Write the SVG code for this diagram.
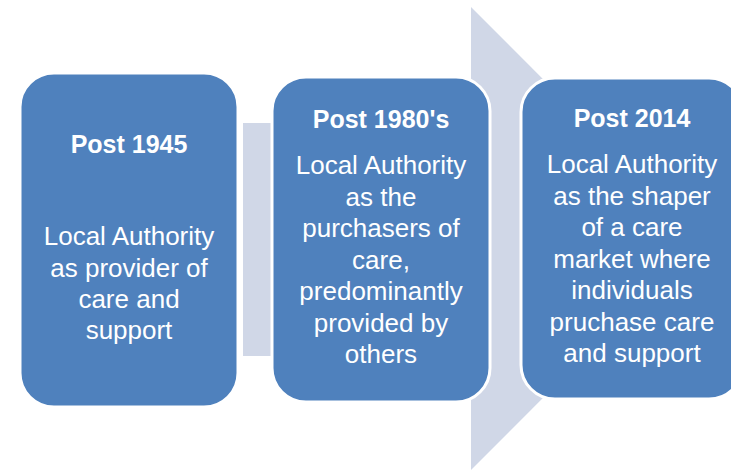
<svg xmlns="http://www.w3.org/2000/svg" width="731" height="470" viewBox="0 0 731 470">
<style>
.box{fill:#4F81BD;stroke:#FFFFFF;stroke-width:3}
.t{font-family:"Liberation Sans",Arial,sans-serif;font-size:26px;fill:#FFFFFF;text-anchor:middle}
.h{font-family:"Liberation Sans",Arial,sans-serif;font-size:25px;font-weight:bold;fill:#FFFFFF;text-anchor:middle}
</style>
<rect width="731" height="470" fill="#FFFFFF"/>
<g id="connectors">
<polygon points="243,123 471,123 471,7 702,238.5 471,470 471,356 243,356" fill="#D0D7E7"/>
</g>
<g id="node1">
<rect class="box" x="20" y="73" width="218" height="334" rx="34" ry="34"/>
<text class="h" x="129" y="153">Post 1945</text>
<text class="t" x="129" y="245">Local Authority</text>
<text class="t" x="129" y="276.5">as provider of</text>
<text class="t" x="129" y="307.5">care and</text>
<text class="t" x="129" y="338.5">support</text>
</g>
<g id="node2">
<rect class="box" x="272" y="77" width="218" height="325" rx="34" ry="34"/>
<text class="h" x="381" y="128">Post 1980's</text>
<text class="t" x="381" y="174">Local Authority</text>
<text class="t" x="381" y="205.5">as the</text>
<text class="t" x="381" y="237">purchasers of</text>
<text class="t" x="381" y="268.5">care,</text>
<text class="t" x="381" y="300">predominantly</text>
<text class="t" x="381" y="331.5">provided by</text>
<text class="t" x="381" y="363">others</text>
</g>
<g id="node3">
<rect class="box" x="521" y="78" width="222" height="321" rx="34" ry="34"/>
<text class="h" x="632" y="127">Post 2014</text>
<text class="t" x="632" y="173">Local Authority</text>
<text class="t" x="632" y="204.5">as the shaper</text>
<text class="t" x="632" y="236">of a care</text>
<text class="t" x="632" y="267.5">market where</text>
<text class="t" x="632" y="299">individuals</text>
<text class="t" x="632" y="330.5">pruchase care</text>
<text class="t" x="632" y="362">and support</text>
</g>
</svg>
